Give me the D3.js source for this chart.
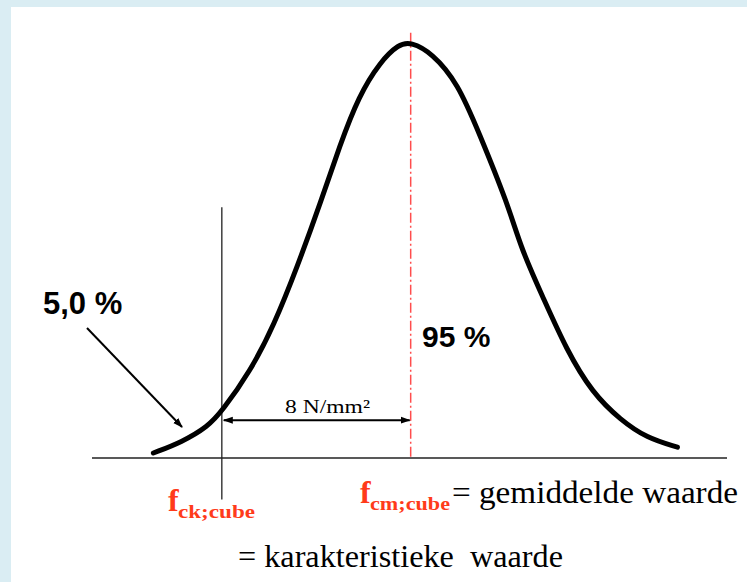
<!DOCTYPE html>
<html>
<head>
<meta charset="utf-8">
<script src="https://cdn.jsdelivr.net/npm/d3@7"></script>
<style>
  html, body { margin: 0; padding: 0; background: #daedf3; }
  svg { display: block; }
  .serif { font-family: "Liberation Serif", "Times New Roman", "DejaVu Serif", serif; }
  .sans { font-family: "Liberation Sans", Arial, sans-serif; font-weight: bold; }
</style>
</head>
<body>
<svg id="chart"></svg>
<script>
// strength in N/mm2 and relative frequency (peak = 1)
const curveX = [27.1, 28.3, 29.4, 30.0, 31.2, 32.2, 33.2, 34.2, 35.0, 35.8, 36.7, 37.5, 38.0,
                38.9, 40.0, 40.9, 42.1, 42.7, 43.6, 44.6, 45.7, 46.9, 48.0, 49.3]
const curveY = [0.012, 0.038, 0.075, 0.112, 0.208, 0.318, 0.460, 0.617, 0.752, 0.870, 0.952, 0.995, 1.0,
                0.974, 0.901, 0.781, 0.613, 0.500, 0.387, 0.260, 0.156, 0.091, 0.048, 0.026]

const fck = 30   // karakteristieke waarde
const fcm = 38   // gemiddelde waarde
const labels = {
  below: '5,0 %',
  above: '95 %',
  diff: '8 N/mm²',
  mean: '= gemiddelde waarde',
  charac: '= karakteristieke  waarde'
}

const width = 747, height = 582

const svg = d3.select('#chart')
  .attr('width', width)
  .attr('height', height)

svg.append('rect')
  .attr('x', 11).attr('y', 7)
  .attr('width', width - 11).attr('height', height - 7)
  .attr('fill', '#fff')

const x = d3.scaleLinear().domain([24.5, 51.4]).range([92, 727])
const y = d3.scaleLinear().domain([0, 1]).range([458, 42])

const defs = svg.append('defs')
defs.append('marker')
  .attr('id', 'head')
  .attr('viewBox', '0 0 10 10')
  .attr('refX', 9).attr('refY', 5)
  .attr('markerWidth', 10).attr('markerHeight', 10)
  .attr('markerUnits', 'userSpaceOnUse')
  .attr('orient', 'auto-start-reverse')
  .append('path')
  .attr('d', 'M0,1.5 L10,5 L0,8.5 Z')
  .attr('fill', '#000')

// baseline
svg.append('line')
  .attr('x1', x.range()[0]).attr('x2', x.range()[1])
  .attr('y1', y(0)).attr('y2', y(0))
  .attr('stroke', '#222').attr('stroke-width', 1.5)

// fck line
svg.append('line')
  .attr('x1', x(fck)).attr('x2', x(fck))
  .attr('y1', y(0.603)).attr('y2', y(-0.1))
  .attr('stroke', '#222').attr('stroke-width', 1.3)

// fcm line
svg.append('line')
  .attr('x1', x(fcm)).attr('x2', x(fcm))
  .attr('y1', y(1.022)).attr('y2', y(0))
  .attr('stroke', '#ff4d4d').attr('stroke-width', 1.5)
  .attr('stroke-dasharray', '10,3,2,3')

// the curve
const line = d3.line()
  .x(d => x(d[0]))
  .y(d => y(d[1]))
  .curve(d3.curveBasis)

svg.append('path')
  .datum(d3.zip(curveX, curveY))
  .attr('d', line)
  .attr('fill', 'none')
  .attr('stroke', '#000')
  .attr('stroke-width', 5)
  .attr('stroke-linecap', 'round')

// 8 N/mm2 span
svg.append('line')
  .attr('x1', x(fck) + 2).attr('x2', x(fcm) - 1)
  .attr('y1', y(0.091)).attr('y2', y(0.091))
  .attr('stroke', '#000').attr('stroke-width', 2)
  .attr('marker-start', 'url(#head)')
  .attr('marker-end', 'url(#head)')

svg.append('text')
  .attr('class', 'serif')
  .attr('x', 285).attr('y', 413)
  .attr('font-size', 19)
  .attr('textLength', 85)
  .attr('lengthAdjust', 'spacingAndGlyphs')
  .text(labels.diff)

// 5,0 % with pointer
svg.append('text')
  .attr('class', 'sans')
  .attr('x', 43).attr('y', 314)
  .attr('font-size', 31)
  .text(labels.below)

svg.append('line')
  .attr('x1', 87).attr('y1', 328)
  .attr('x2', 182).attr('y2', 427)
  .attr('stroke', '#000').attr('stroke-width', 2)
  .attr('marker-end', 'url(#head)')

svg.append('text')
  .attr('class', 'sans')
  .attr('x', 422).attr('y', 347)
  .attr('font-size', 30)
  .text(labels.above)

// f labels
const red = '#ff3b1a'
function fLabel(x0, base, sub, subLen) {
  svg.append('text')
    .attr('class', 'serif')
    .attr('x', x0).attr('y', base)
    .attr('font-size', 32).attr('font-weight', 'bold')
    .attr('fill', red)
    .text('f')
  svg.append('text')
    .attr('class', 'serif')
    .attr('x', x0 + 10).attr('y', base + 7)
    .attr('font-size', 19).attr('font-weight', 'bold')
    .attr('fill', red)
    .attr('textLength', subLen)
    .attr('lengthAdjust', 'spacingAndGlyphs')
    .text(sub)
}
fLabel(168, 511, 'ck;cube', 77)
fLabel(360, 503, 'cm;cube', 80)

svg.append('text')
  .attr('class', 'serif')
  .attr('x', 452).attr('y', 503)
  .attr('font-size', 32)
  .attr('textLength', 286)
  .attr('lengthAdjust', 'spacingAndGlyphs')
  .text(labels.mean)

svg.append('text')
  .attr('class', 'serif')
  .attr('x', 238).attr('y', 567)
  .attr('font-size', 32)
  .attr('textLength', 325)
  .attr('lengthAdjust', 'spacingAndGlyphs')
  .style('white-space', 'pre')
  .text(labels.charac)
</script>
</body>
</html>
